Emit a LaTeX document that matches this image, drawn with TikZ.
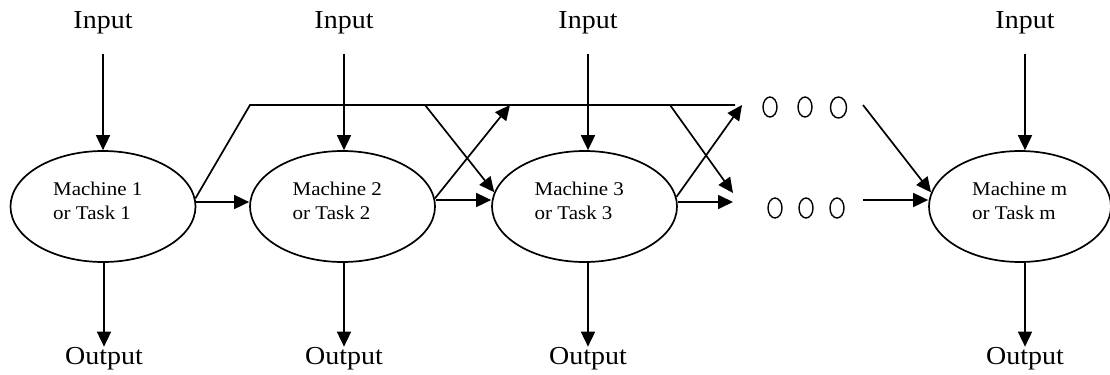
\documentclass[tikz,border=0pt]{standalone}
\usepackage{fontspec}
\setmainfont{Liberation Serif}[FakeStretch=1.08]
\usetikzlibrary{arrows.meta,shapes.geometric,calc}

\tikzset{
  wire/.style={line width=1.7bp},
  flow/.style={wire,-{Triangle[length=15bp,width=14bp]}},
  machine/.style={ellipse,draw,line width=1.7bp,minimum width=185bp,minimum height=111bp,inner sep=0pt},
  mtext/.style={anchor=north west,inner sep=0pt,align=left,font=\fontsize{19.5}{24}\selectfont},
  iolabel/.style={anchor=base,inner sep=0pt,font=\fontsize{26}{30}\selectfont},
  dot/.style={ellipse,draw,line width=1.4bp,minimum width=14bp,minimum height=20bp,inner sep=0pt}
}

\begin{document}
\begin{tikzpicture}[x=1bp,y=-1bp]
  \useasboundingbox (0,0) rectangle (1110,374);

  % machines
  \node[machine] (m1) at (103,206.5) {};
  \node[machine] (m2) at (342.5,206.5) {};
  \node[machine] (m3) at (584.5,206.5) {};
  \node[machine,minimum width=182bp] (m4) at (1020,206.5) {};

  \node[mtext] (t1) at ($(m1.center)+(-50,-25)$) {Machine 1\\or Task 1};
  \node[mtext] (t2) at ($(m2.center)+(-50,-25)$) {Machine 2\\or Task 2};
  \node[mtext] (t3) at ($(m3.center)+(-50,-25)$) {Machine 3\\or Task 3};
  \node[mtext] (t4) at ($(m4.center)+(-48,-25)$) {Machine m\\or Task m};

  % inputs and outputs
  \node[iolabel] (in1) at (103,28) {Input};
  \node[iolabel] (in2) at (344,28) {Input};
  \node[iolabel] (in3) at (588,28) {Input};
  \node[iolabel] (in4) at (1025,28) {Input};

  \node[iolabel] (out1) at (104,364) {Output};
  \node[iolabel] (out2) at (344,364) {Output};
  \node[iolabel] (out3) at (588,364) {Output};
  \node[iolabel] (out4) at (1025,364) {Output};

  \foreach \i in {1,2,3,4}{
    \draw[flow,shorten <=20bp] (in\i.south) -- (in\i |- m\i.north);
    \draw[flow] (out\i |- m\i.south) -- (out\i.north);
  }

  % ellipsis marks
  \node[dot] (dt1) at (770,107) {};
  \node[dot] (dt2) at (805,107) {};
  \node[dot,minimum width=16bp,minimum height=21bp] (dt3) at (838.5,107.5) {};
  \node[dot] (db1) at (775,208) {};
  \node[dot] (db2) at (806,208) {};
  \node[dot] (db3) at (837,208) {};

  % bus and branch points
  \coordinate (k0) at (250,105);
  \coordinate (kend) at (735,105);
  \coordinate (b1) at (425,105);
  \coordinate (b2) at (510,105);
  \coordinate (b3) at (670,105);
  \coordinate (b4) at (742,105);
  \coordinate (d2) at (733,193);
  \coordinate (d3) at (733,202);
  \coordinate (h1) at (0,202);
  \coordinate (h2) at (0,200);
  \coordinate (ot) at (863,105);
  \coordinate (ob) at (863,200);

  \draw[wire] (m1.5) -- (k0) -- (kend);

  % straight flow between machines
  \draw[flow] (h1 -| m1.east) -- (h1 -| m2.west);
  \draw[flow] (h2 -| m2.east) -- (h2 -| m3.west);
  \draw[flow] (d3 -| m3.east) -- (d3);

  % crossing links
  \draw[flow] (b1) -- (m3.171);
  \draw[flow] (m2.5) -- (b2);
  \draw[flow] (b3) -- (d2);
  \draw[flow] (m3.6) -- (b4);

  % into the last machine
  \draw[flow] (ot) -- (m4.171);
  \draw[flow] (ob) -- (ob -| m4.west);
\end{tikzpicture}
\end{document}
